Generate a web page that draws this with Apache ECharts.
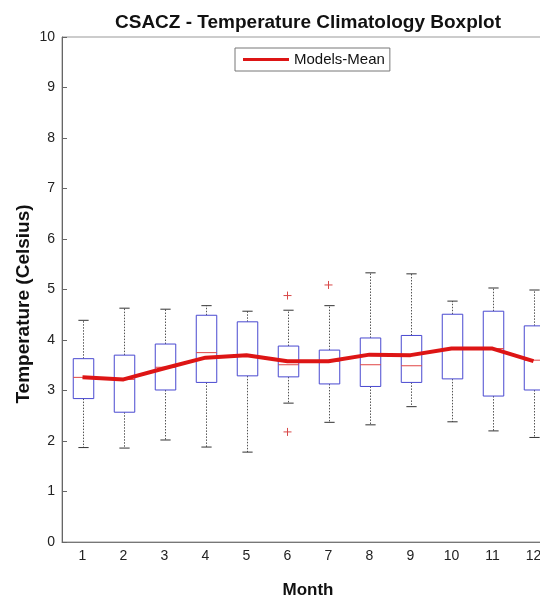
<!DOCTYPE html>
<html>
<head>
<meta charset="utf-8">
<script src="https://cdn.jsdelivr.net/npm/echarts@6/dist/echarts.min.js"></script>
<style>html,body{margin:0;padding:0;background:#fff;overflow:hidden;width:540px;height:604px;}#c{width:560px;height:604px;}</style>
</head>
<body>
<div id="c"></div>
<script>
const months = ['1','2','3','4','5','6','7','8','9','10','11','12'];
const lowWhisker  = [1.87, 1.86, 2.02, 1.88, 1.78, 2.75, 2.37, 2.32, 2.68, 2.38, 2.20, 2.07];
const q1Values    = [2.84, 2.57, 3.01, 3.16, 3.29, 3.27, 3.13, 3.08, 3.16, 3.23, 2.89, 3.01];
const medians     = [3.26, 3.22, 3.46, 3.75, 3.69, 3.51, 3.58, 3.51, 3.49, 3.83, 3.83, 3.60];
const q3Values    = [3.63, 3.70, 3.92, 4.49, 4.36, 3.88, 3.80, 4.04, 4.09, 4.51, 4.57, 4.28];
const highWhisker = [4.39, 4.63, 4.61, 4.68, 4.57, 4.59, 4.68, 5.33, 5.31, 4.77, 5.03, 4.99];
const modelsMean  = [3.26, 3.22, 3.44, 3.65, 3.70, 3.58, 3.58, 3.71, 3.70, 3.83, 3.83, 3.58];
const outlierMonths = [6, 6, 7];
const outlierValues = [4.88, 2.18, 5.09];
const yTicks = [0,1,2,3,4,5,6,7,8,9,10];

const FONT = '"Liberation Sans", Arial, sans-serif';
const boxData = months.map((m, i) => [i, lowWhisker[i], q1Values[i], medians[i], q3Values[i], highWhisker[i]]);
const outlierData = outlierMonths.map((m, i) => [m - 1, outlierValues[i]]);

function renderBox(params, api) {
  const i = api.value(0);
  const lo = api.coord([i, api.value(1)]);
  const q1 = api.coord([i, api.value(2)]);
  const md = api.coord([i, api.value(3)]);
  const q3 = api.coord([i, api.value(4)]);
  const hi = api.coord([i, api.value(5)]);
  const w = api.size([1, 0])[0] * 0.5;
  const cw = w * 0.5;
  const x = Math.round(lo[0]) + 0.5;
  const dash = {stroke: '#555', lineWidth: 1, lineDash: [1.5, 1.5]};
  const cap = {stroke: '#333', lineWidth: 1};
  return {
    type: 'group',
    children: [
      {type: 'line', shape: {x1: x, y1: q3[1], x2: x, y2: hi[1]}, style: dash},
      {type: 'line', shape: {x1: x, y1: q1[1], x2: x, y2: lo[1]}, style: dash},
      {type: 'line', shape: {x1: x - cw/2, y1: hi[1], x2: x + cw/2, y2: hi[1]}, style: cap},
      {type: 'line', shape: {x1: x - cw/2, y1: lo[1], x2: x + cw/2, y2: lo[1]}, style: cap},
      {type: 'rect', shape: {x: x - w/2, y: q3[1], width: w, height: q1[1] - q3[1]},
        style: {fill: '#fff', stroke: '#4848d0', lineWidth: 1}},
      {type: 'line', shape: {x1: x - w/2, y1: md[1], x2: x + w/2, y2: md[1]},
        style: {stroke: '#e04545', lineWidth: 1}}
    ]
  };
}

function renderOutlier(params, api) {
  const p = api.coord([api.value(0), api.value(1)]);
  const s = 4;
  const st = {stroke: '#d84848', lineWidth: 1};
  return {
    type: 'group',
    children: [
      {type: 'line', shape: {x1: p[0] - s, y1: p[1], x2: p[0] + s, y2: p[1]}, style: st},
      {type: 'line', shape: {x1: p[0], y1: p[1] - s, x2: p[0], y2: p[1] + s}, style: st}
    ]
  };
}

const chart = echarts.init(document.getElementById('c'), null, {renderer: 'canvas'});
chart.setOption({
  animation: false,
  backgroundColor: '#fff',
  textStyle: {fontFamily: FONT},
  grid: {left: 62, top: 37, width: 492, height: 507, show: true, borderColor: '#999', borderWidth: 1, backgroundColor: 'transparent'},
  graphic: [
    {type: 'text', x: 308, y: 23, style: {text: 'CSACZ - Temperature Climatology Boxplot', font: 'bold 19px ' + FONT, fill: '#111', align: 'center', verticalAlign: 'middle'}},
    {type: 'text', x: 24, y: 304, rotation: Math.PI / 2, style: {text: 'Temperature (Celsius)', font: 'bold 19px ' + FONT, fill: '#111', align: 'center', verticalAlign: 'middle'}}
  ],
  legend: {
    left: 235, top: 48,
    data: [{name: 'Models-Mean', icon: 'rect'}],
    itemWidth: 46, itemHeight: 3,
    padding: [4, 5, 4, 8],
    borderColor: '#777', borderWidth: 1,
    textStyle: {fontFamily: FONT, fontSize: 15, color: '#111'}
  },
  xAxis: {
    type: 'category',
    data: months,
    boundaryGap: true,
    name: 'Month',
    nameLocation: 'middle',
    nameGap: 40,
    nameTextStyle: {fontFamily: FONT, fontSize: 17, fontWeight: 'bold', color: '#111'},
    axisLine: {lineStyle: {color: '#777', width: 1}},
    axisTick: {show: false},
    axisLabel: {fontFamily: FONT, fontSize: 14, color: '#222', margin: 7},
    splitLine: {show: false}
  },
  yAxis: {
    type: 'value',
    min: yTicks[0], max: yTicks[yTicks.length - 1], interval: 1,
    axisLine: {show: true, lineStyle: {color: '#666', width: 1}},
    axisTick: {show: true, inside: true, length: 5, lineStyle: {color: '#666'}},
    axisLabel: {fontFamily: FONT, fontSize: 14, color: '#222', margin: 7},
    splitLine: {show: false}
  },
  series: [
    {type: 'custom', name: 'box', renderItem: renderBox, data: boxData, encode: {x: 0, y: [1,2,3,4,5]}, z: 2, silent: true},
    {type: 'custom', name: 'outliers', renderItem: renderOutlier, data: outlierData, encode: {x: 0, y: 1}, z: 2, silent: true},
    {type: 'line', name: 'Models-Mean', data: modelsMean, symbol: 'none', z: 5,
      lineStyle: {color: '#dd1515', width: 4}, itemStyle: {color: '#dd1515'}}
  ]
});
</script>
</body>
</html>
